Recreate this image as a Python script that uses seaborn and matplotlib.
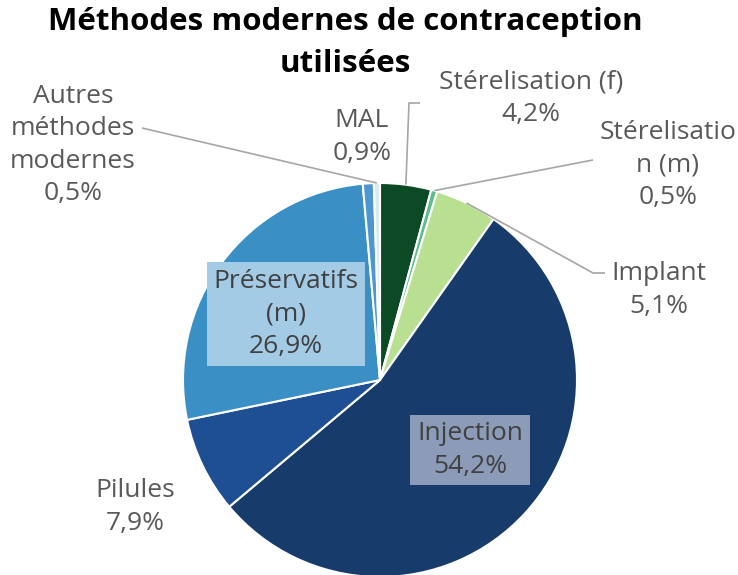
import matplotlib.pyplot as plt
import seaborn as sns
import numpy as np

# Data
categories = ["Stérelisation (f)", "Stérelisation (m)", "Implant", "Injection",
              "Pilules", "Préservatifs (m)", "MAL", "Autres méthodes modernes"]
values = [4.2, 0.5, 5.1, 54.2, 7.9, 26.9, 0.9, 0.5]
label_texts = ["Stérelisation (f)", "Stérelisatio\nn (m)", "Implant", "Injection",
               "Pilules", "Préservatifs\n(m)", "MAL", "Autres\nméthodes\nmodernes"]
colors = ["#0b4a24", "#5dbb8d", "#b9df90", "#173c6c",
          "#1f4f93", "#3a8fc5", "#4d96cf", "#dbe9f6"]
title_lines = ["Méthodes modernes de contraception", "utilisées"]

sns.set_theme(style="white")
plt.rcParams['font.family'] = ['Open Sans', 'DejaVu Sans']

W, H = 738, 575
CX, CY, R = 380, 380, 197  # pie centre / radius in pixels


def px(x, y):
    # pixel position -> data units of the pie axes
    return (x - CX) / R, (CY - y) / R


fig = plt.figure(figsize=(W / 100, H / 100), dpi=100)
ax = fig.add_axes([0, 0, 1, 1])
wedges, _ = ax.pie(values, colors=colors, startangle=90, counterclock=False,
                   wedgeprops=dict(edgecolor="white", linewidth=1.5))
ax.set_xlim(px(0, 0)[0], px(W, 0)[0])
ax.set_ylim(px(0, H)[1], px(0, 0)[1])
ax.set_aspect("auto")
ax.axis("off")

txt_col = "#595959"
fs = 19

# label centres (pixels), leader start (pixels) or None, box colour or None
layout = {
    0: dict(pos=(531, 98), leader=[(420, 103), (409, 103)], box=None),
    1: dict(pos=(668, 165), leader=[(593, 160)], box=None),
    2: dict(pos=(659, 290), leader=[(605, 273), (593, 273)], box=None),
    3: dict(pos=(470, 450), leader=None, box="#8c9cb8"),
    4: dict(pos=(135, 507), leader=None, box=None),
    5: dict(pos=(286, 314), leader=None, box="#a3cbe6"),
    6: dict(pos=(362, 137), leader=None, box=None),
    7: dict(pos=(73, 145), leader=[(142, 128)], box=None),
}

for i, w in enumerate(wedges):
    lay = layout[i]
    pct = f"{values[i]:.1f}".replace(".", ",") + "%"
    s = label_texts[i] + "\n" + pct
    x, y = px(*lay["pos"])
    kw = dict(ha="center", va="center", fontsize=fs, linespacing=1.4,
              color=txt_col)
    if lay["box"] is not None:
        kw["color"] = "#404040"
        kw["bbox"] = dict(boxstyle="square,pad=0.25", fc=lay["box"], ec="none")
    ax.text(x, y, s, **kw)
    if lay["leader"] is not None:
        mid = np.deg2rad((w.theta1 + w.theta2) / 2)
        pts = [px(*p) for p in lay["leader"]] + [(np.cos(mid), np.sin(mid))]
        xs, ys = zip(*pts)
        ax.plot(xs, ys, color="#a6a6a6", lw=1.2, solid_capstyle="butt")

# title, one text per line
for line, ty in zip(title_lines, [22, 64]):
    fig.text(345 / W, 1 - ty / H, line, ha="center", va="center",
             fontsize=22.5, fontweight="bold", color="black")

fig.savefig("out.png", dpi=100)
